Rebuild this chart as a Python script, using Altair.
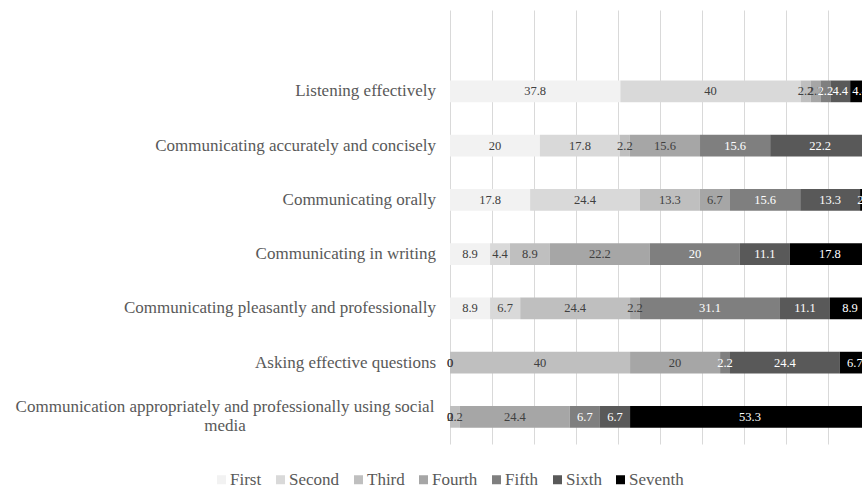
import altair as alt
import pandas as pd

# Communication skills ranked by respondents (percent choosing each rank)
skills = [
    "Listening effectively",
    "Communicating accurately and concisely",
    "Communicating orally",
    "Communicating in writing",
    "Communicating pleasantly and professionally",
    "Asking effective questions",
    "Communication appropriately and professionally using social\nmedia",
]
ranks = ["First", "Second", "Third", "Fourth", "Fifth", "Sixth", "Seventh"]
colors = ["#F2F2F2", "#D9D9D9", "#BFBFBF", "#A6A6A6", "#7F7F7F", "#595959", "#000000"]

first = [37.8, 20.0, 17.8, 8.9, 8.9, 0.0, 0.0]
second = [40.0, 17.8, 24.4, 4.4, 6.7, 0.0, 0.0]
third = [2.2, 2.2, 13.3, 8.9, 24.4, 40.0, 2.2]
fourth = [2.2, 15.6, 6.7, 22.2, 2.2, 20.0, 24.4]
fifth = [2.2, 15.6, 15.6, 20.0, 31.1, 2.2, 6.7]
sixth = [4.4, 22.2, 13.3, 11.1, 11.1, 24.4, 6.7]
seventh = [4.4, None, 2.2, 17.8, 8.9, 6.7, 53.3]

series = [first, second, third, fourth, fifth, sixth, seventh]

rows = []
for r_idx, (rank, vals) in enumerate(zip(ranks, series)):
    for skill, v in zip(skills, vals):
        if v is None:
            continue
        rows.append({"skill": skill, "rank": rank, "order": r_idx,
                     "value": v, "label": f"{v:g}"})
df = pd.DataFrame(rows)
labels_df = pd.DataFrame({"skill": skills})

FONT = "Liberation Serif"
PLOT_W, PLOT_H = 412, 434
FULL_W = 420  # width of the 100% span; the right edge runs past the page

x_scale = alt.Scale(domain=[0, PLOT_W / FULL_W], nice=False, zero=False)
y_scale = alt.Scale(domain=[" "] + skills, paddingInner=0.6, paddingOuter=0.3)

base = alt.Chart(df).transform_stack(
    stack="value",
    groupby=["skill"],
    as_=["x0", "x1"],
    offset="normalize",
    sort=[alt.SortField("order")],
).transform_calculate(mid="(datum.x0 + datum.x1) / 2")

bars = base.mark_bar(clip=True, strokeWidth=0).encode(
    x=alt.X("x0:Q", scale=x_scale,
            axis=alt.Axis(values=[i / 10 for i in range(10)], grid=True,
                          gridColor="#D9D9D9", gridWidth=1, labels=False,
                          ticks=False, domain=False, title=None)),
    x2="x1:Q",
    y=alt.Y("skill:N", scale=y_scale, axis=None),
    color=alt.Color(
        "rank:N",
        scale=alt.Scale(domain=ranks, range=colors),
        legend=alt.Legend(
            orient="none", legendX=-237, legendY=461, direction="horizontal",
            columns=7, title=None, symbolType="square", symbolSize=81,
            symbolStrokeWidth=0, symbolOpacity=1, labelFont=FONT,
            labelFontSize=17, labelColor="#595959", labelOffset=0,
            columnPadding=10, padding=0,
        ),
    ),
)

values = base.mark_text(font=FONT, fontSize=12.5,
                        baseline="middle", align="center").encode(
    x=alt.X("mid:Q", scale=x_scale),
    y=alt.Y("skill:N", scale=y_scale, axis=None),
    text="label:N",
    color=alt.condition(
        alt.FieldOneOfPredicate(field="rank", oneOf=["Fifth", "Sixth", "Seventh"]),
        alt.value("#FFFFFF"),
        alt.value("#404040"),
    ),
)

single_line = alt.Chart(labels_df).transform_filter(
    "indexof(datum.skill, '\\n') < 0"
).mark_text(font=FONT, fontSize=17, color="#595959", align="right",
            baseline="middle").encode(
    x=alt.value(-14),
    y=alt.Y("skill:N", scale=y_scale, axis=None),
    text="skill:N",
)

wrapped = alt.Chart(labels_df).transform_filter(
    "indexof(datum.skill, '\\n') >= 0"
).mark_text(font=FONT, fontSize=17, color="#595959", align="center",
            baseline="middle", lineBreak="\n", lineHeight=19, dy=-9.5).encode(
    x=alt.value(-225),
    y=alt.Y("skill:N", scale=y_scale, axis=None),
    text="skill:N",
)

chart = alt.layer(bars, values, single_line, wrapped).properties(
    width=PLOT_W,
    height=PLOT_H,
    autosize=alt.AutoSizeParams(type="none"),
    padding={"left": 450, "top": 10, "right": 0, "bottom": 43},
    background="white",
).configure_view(stroke=None)

chart.save("out.html", embed_options={"renderer": "svg", "actions": False})
